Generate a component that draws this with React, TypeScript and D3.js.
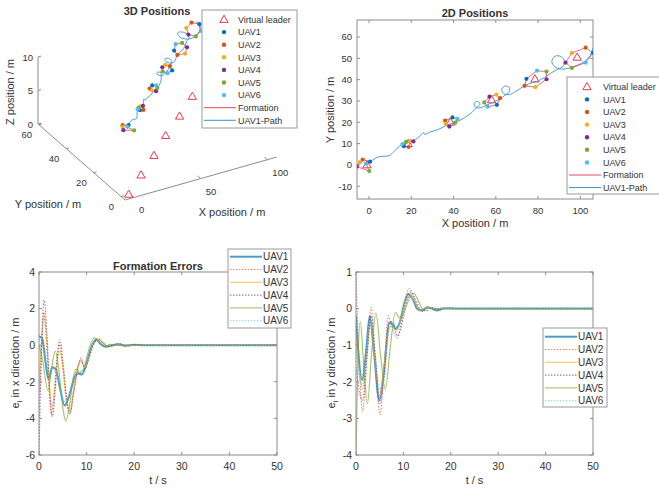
import React, { useRef, useEffect } from "react";
import * as d3 from "d3";

const W = 659;
const H = 488;
const FONT = "'Liberation Sans', Arial, Helvetica, sans-serif";
const TXT = "#333";
const AX = "#8c8c8c";

const uavNames = ["UAV1", "UAV2", "UAV3", "UAV4", "UAV5", "UAV6"];
const uavColors = ["#0072BD", "#D95319", "#EDB120", "#7E2F8E", "#77AC30", "#4DBEEE"];
const uavDash = [null, "1.4,1.6", null, "1.4,1.6", null, "1.4,1.6"];
const uavWidth = [2, 1.1, 1.1, 1.1, 1.1, 1.1];
const leaderColor = "#ee3a4a";
const formationColor = "#e8455a";
const pathColor = "#3b90d3";

// virtual leader positions at the six snapshots (x, y)
const leaderPos = [[-1, 0], [18.5, 10], [38.5, 20], [58, 30.5], [78.5, 40.3], [98.5, 50.5]];
const leaderZ = 0;
const uavZ = 10;

// UAV1..UAV6 positions at each snapshot (x, y)
const snap1 = [[0.5, 1.5], [-3, 2.5], [-4.3, 1.3], [-5.8, -0.8], [0.1, -2.9], [-1.4, 0.6]];
const snap2 = [[16.5, 8.8], [18.7, 8.4], [19.5, 11.2], [21, 11], [17.5, 10.8], [15.8, 9.8]];
const snap3 = [[39.5, 22.3], [36, 20.8], [36.3, 19.3], [38, 18], [40.8, 19.8], [41.8, 21.6]];
const snap4 = [[60.5, 28.2], [62, 31.3], [60.3, 33], [57, 32], [54.5, 29.3], [56.2, 27.3]];
const snap5 = [[74.5, 40.4], [73.6, 37.1], [78.7, 36.5], [84, 40.2], [84, 43.8], [79.5, 44.2]];
const snap6 = [[106, 52.6], [102.5, 55], [96, 52.5], [93, 48], [96, 45.5], [102.5, 48]];
const snapshots = [snap1, snap2, snap3, snap4, snap5, snap6];

// UAV1 trajectory (x, y)
const uav1Path = [
  [0, 1], [2.5, 2.8], [5, 3.9], [7.5, 4.1], [9.5, 4.3], [12, 6.5], [14.5, 8.8], [17.5, 10.2],
  [20.5, 11], [23.5, 13], [25.8, 15.2], [26.3, 14.3], [29, 15.5], [32.5, 16.5], [36.5, 18.5],
  [41.5, 20.3], [45, 22], [48.5, 24.5], [50.5, 26.5], [52.5, 28.5], [51.5, 29.8], [49.8, 29],
  [50.2, 27.2], [52.5, 26.8], [55.5, 28], [59, 29.5], [62, 31], [64, 32.5], [66.2, 34],
  [66.5, 36.2], [64.5, 37], [62.8, 35.5], [63.8, 33.4], [66.5, 33], [69.5, 34.5], [72.5, 36.5],
  [75.5, 38], [79.5, 39.2], [83, 41], [86, 43], [88.5, 44.5], [91.5, 46], [92.5, 48.5],
  [91, 50.8], [88, 51], [86.5, 48.5], [88, 46], [91, 45], [95, 45.5], [99, 47], [102, 48.5],
  [104.5, 51], [106, 55],
];

// formation errors in x direction (t, e)
const errX1 = [[0, 0.5], [0.7, 0.35], [1.3, -0.8], [2.0, -1.85], [2.8, -1.2], [3.5, -1.3], [4.3, -2.2], [5.4, -3.3], [6.3, -2.8], [7.5, -1.75], [8.2, -1.55], [9, -1.6], [10, -1.0], [10.8, -0.25], [12, 0.3], [13, 0.05], [14, -0.08], [15.5, 0.0], [16.5, 0.05], [18, -0.03], [20, 0.02], [22, 0], [50, 0]];
const errX2 = [[0, -3.9], [0.5, -0.5], [1.0, 1.8], [1.5, 0.5], [2.0, -2], [2.6, -3.8], [3.2, -2.5], [3.8, -0.7], [4.3, 0.05], [4.9, -1], [5.7, -3], [6.5, -3.7], [7.2, -2.7], [8.2, -1.2], [8.9, -0.8], [9.5, -1.1], [10.2, -0.9], [11.2, -0.1], [12.5, 0.35], [13.5, 0.15], [14.5, -0.1], [16, 0.02], [17, 0.08], [18.5, -0.05], [20, 0.02], [22, 0], [50, 0]];
const errX3 = [[0, -2.5], [0.5, 0.2], [1.1, 1.6], [1.6, 0.3], [2.2, -2.2], [2.8, -3.4], [3.4, -2.2], [3.9, -0.8], [4.4, -0.3], [5, -1.2], [5.8, -3], [6.5, -3.6], [7.2, -2.5], [8.2, -1.1], [8.8, -0.9], [9.6, -1.2], [10.4, -0.7], [11.5, 0.1], [12.6, 0.3], [13.8, 0.05], [15, -0.08], [16.5, 0.03], [18, 0], [50, 0]];
const errX4 = [[0, -6], [0.4, -1.5], [1.1, 2.45], [1.7, 0.5], [2.2, -2.3], [2.8, -3.9], [3.4, -2.5], [3.9, -0.5], [4.4, 0.3], [5, -0.8], [5.8, -2.8], [6.5, -3.75], [7.3, -2.6], [8.2, -1.2], [8.8, -0.7], [9.6, -1.3], [10.4, -0.8], [11.4, 0], [12.3, 0.35], [13.3, 0.15], [14.3, -0.08], [15.8, 0.03], [17, 0.07], [18.5, -0.04], [20, 0.02], [22, 0], [50, 0]];
const errX5 = [[0, 0], [0.8, -0.9], [1.9, -2.5], [2.7, -1.2], [3.4, -0.3], [4.1, -1.2], [5, -3.4], [5.6, -4.15], [6.3, -3.5], [7.2, -1.8], [7.8, -1.3], [8.6, -1.5], [9.5, -1.2], [10.5, -0.2], [11.6, 0.4], [12.6, 0.2], [13.6, -0.1], [15, 0.05], [16.5, -0.02], [18, 0], [50, 0]];
const errX6 = [[0, 0.3], [0.8, 0.1], [1.5, -1], [2.2, -1.75], [2.9, -1.3], [3.6, -1.4], [4.5, -2.6], [5.6, -3.1], [6.4, -2.6], [7.4, -1.6], [8.2, -1.4], [9.2, -1.4], [10.2, -0.9], [11.2, 0], [12.2, 0.25], [13.2, 0.1], [14.5, -0.05], [16, 0.03], [18, 0], [50, 0]];

// formation errors in y direction (t, e)
const errY1 = [[0, -0.2], [0.5, -1.2], [1.3, -1.95], [2.1, -1.2], [2.9, -0.2], [3.8, -1.2], [4.9, -2.5], [5.8, -1.8], [7.1, -0.38], [7.8, -0.45], [8.4, -0.55], [9.3, -0.35], [10.1, 0.1], [11, 0.4], [12, 0.25], [13, -0.02], [14, -0.05], [15, 0.04], [16, 0.0], [17, -0.05], [18.5, 0], [20, 0.01], [22, 0], [50, 0]];
const errY2 = [[0, 1], [0.5, -0.9], [1.4, -2.8], [2.3, -1.4], [3.2, 0.03], [4.1, -1.6], [5.1, -2.9], [5.9, -1.7], [6.8, -0.2], [7.6, -0.5], [8.6, -0.8], [9.6, -0.4], [10.4, 0.2], [11.2, 0.55], [12.2, 0.3], [13.2, 0], [14.2, -0.08], [15.2, 0.03], [16.5, -0.03], [18, 0.02], [20, 0], [50, 0]];
const errY3 = [[0, -0.9], [0.6, -1.6], [1.4, -2.2], [2.3, -1.2], [3.1, -0.3], [4, -1.4], [5, -2.4], [5.9, -1.6], [6.9, -0.5], [7.7, -0.5], [8.6, -0.6], [9.6, -0.2], [10.6, 0.25], [11.5, 0.35], [12.5, 0.15], [13.5, -0.05], [15, 0.02], [17, 0], [50, 0]];
const errY4 = [[0, -1.6], [0.6, -2.2], [1.4, -2.5], [2.3, -1.3], [3.2, -0.2], [4.1, -1.3], [5, -2.6], [5.9, -1.9], [6.9, -0.4], [7.7, -0.35], [8.7, -0.75], [9.7, -0.4], [10.6, 0.15], [11.6, 0.45], [12.6, 0.25], [13.6, -0.02], [14.8, -0.05], [16, 0.03], [17.5, -0.02], [19, 0.01], [21, 0], [50, 0]];
const errY5 = [[0, -4], [0.4, -1.5], [0.9, -0.35], [1.6, -1.5], [2.4, -2.6], [3.3, -1.2], [4.2, -0.12], [5.2, -1.3], [6.2, -2.2], [7.2, -1.1], [8.3, -0.1], [9.2, -0.25], [10, -0.15], [11, 0.2], [12.2, 0.42], [13.2, 0.2], [14.2, -0.03], [15.5, 0.02], [17, 0], [50, 0]];
const errY6 = [[0, -1.1], [0.6, -1.8], [1.3, -2.1], [2.1, -1.3], [2.9, -0.4], [3.9, -1.1], [5, -2.2], [6, -1.9], [6.9, -0.6], [7.8, -0.4], [8.7, -0.5], [9.7, -0.25], [10.7, 0.2], [11.6, 0.35], [12.6, 0.15], [13.6, -0.03], [15, 0.02], [17, 0], [50, 0]];

const errX = [errX1, errX2, errX3, errX4, errX5, errX6];
const errY = [errY1, errY2, errY3, errY4, errY5, errY6];

const ticks3X = [0, 50, 100];
const ticks3Y = [0, 20, 40, 60];
const ticks3Z = [0, 5, 10];
const ticks2X = [0, 20, 40, 60, 80, 100];
const ticks2Y = [-10, 0, 10, 20, 30, 40, 50, 60];
const ticksT = [0, 10, 20, 30, 40, 50];
const ticksEx = [-6, -4, -2, 0, 2, 4];
const ticksEy = [-4, -3, -2, -1, 0, 1];

function addText(g, x, y, str, size, anchor = "middle", weight = "normal") {
  return g.append("text").attr("x", x).attr("y", y).attr("text-anchor", anchor)
    .attr("font-family", FONT).attr("font-size", size).attr("font-weight", weight)
    .attr("fill", TXT).text(str);
}

// boxed axes with inward ticks on all four sides
function boxAxes(g, xs, ys, xt, yt, fs, xlabY, ylabEnd) {
  const [x0, x1] = xs.range();
  const [y0, y1] = ys.range();
  const tl = 3;
  g.append("rect").attr("x", x0).attr("y", y1).attr("width", x1 - x0).attr("height", y0 - y1)
    .attr("fill", "none").attr("stroke", AX).attr("stroke-width", 1);
  xt.forEach((t) => {
    const x = xs(t);
    g.append("line").attr("x1", x).attr("x2", x).attr("y1", y0).attr("y2", y0 - tl).attr("stroke", AX);
    g.append("line").attr("x1", x).attr("x2", x).attr("y1", y1).attr("y2", y1 + tl).attr("stroke", AX);
    addText(g, x, xlabY, String(t), fs);
  });
  yt.forEach((t) => {
    const y = ys(t);
    g.append("line").attr("x1", x0).attr("x2", x0 + tl).attr("y1", y).attr("y2", y).attr("stroke", AX);
    g.append("line").attr("x1", x1).attr("x2", x1 - tl).attr("y1", y).attr("y2", y).attr("stroke", AX);
    addText(g, ylabEnd, y + fs * 0.36, String(t), fs, "end");
  });
}

function legend(g, box, rows, fs, mx, tx, lx1, lx2) {
  g.append("rect").attr("x", box[0]).attr("y", box[1]).attr("width", box[2]).attr("height", box[3])
    .attr("fill", "#fff").attr("stroke", "#999").attr("stroke-width", 1);
  rows.forEach((r) => {
    if (r.kind === "tri") {
      g.append("path").attr("d", d3.symbol(d3.symbolTriangle, 30)())
        .attr("transform", `translate(${mx},${r.y + 0.5})`)
        .attr("fill", "none").attr("stroke", leaderColor).attr("stroke-width", 1);
    } else if (r.kind === "dot") {
      g.append("circle").attr("cx", mx).attr("cy", r.y).attr("r", 2.2).attr("fill", r.color);
    } else {
      g.append("line").attr("x1", lx1).attr("x2", lx2).attr("y1", r.y).attr("y2", r.y)
        .attr("stroke", r.color).attr("stroke-width", r.width || 1)
        .attr("stroke-dasharray", r.dash).attr("opacity", r.opacity || 1);
    }
    addText(g, tx, r.y + fs * 0.36, r.label, fs, "start");
  });
}

function positionRows(y0, step) {
  const rows = [{ kind: "tri", label: "Virtual leader", y: y0 }];
  uavNames.forEach((n, i) => rows.push({ kind: "dot", label: n, color: uavColors[i], y: y0 + step * (i + 1) }));
  rows.push({ kind: "line", label: "Formation", color: formationColor, y: y0 + step * 7 });
  rows.push({ kind: "line", label: "UAV1-Path", color: pathColor, y: y0 + step * 8 });
  return rows;
}

function draw3D(svg) {
  const g = svg.append("g");
  const xLim = [-6.7, 107];
  const yLim = [-2.9, 60.7];
  const zLim = [0, 10];
  const ox = 130;
  const oy = 194;
  const xh = d3.scaleLinear().domain([0, 100]).range([0, 133.4]);
  const xv = d3.scaleLinear().domain([0, 100]).range([0, -37.75]);
  const yh = d3.scaleLinear().domain([0, 50]).range([0, -68.4]);
  const yv = d3.scaleLinear().domain([0, 50]).range([0, -59.75]);
  const zv = d3.scaleLinear().domain([0, 10]).range([0, -67]);
  const P = (x, y, z) => [ox + xh(x) + yh(y), oy + xv(x) + yv(y) + zv(z)];

  const seg = (a, b) => g.append("line").attr("x1", a[0]).attr("y1", a[1]).attr("x2", b[0]).attr("y2", b[1])
    .attr("stroke", AX).attr("stroke-width", 1);
  seg(P(xLim[0], yLim[0], 0), P(xLim[1], yLim[0], 0));
  seg(P(xLim[0], yLim[0], 0), P(xLim[0], yLim[1], 0));
  seg(P(xLim[0], yLim[1], zLim[0]), P(xLim[0], yLim[1], zLim[1]));

  ticks3X.forEach((t) => {
    const a = P(t, yLim[0], 0);
    seg(a, P(t, yLim[0] + 2.2, 0));
    addText(g, a[0] + 5, a[1] + 16, String(t), 9.5, "start");
  });
  ticks3Y.forEach((t) => {
    const a = P(xLim[0], t, 0);
    seg(a, P(xLim[0] + 2.2, t, 0));
    addText(g, a[0] - 7, a[1] + 13, String(t), 9.5, "end");
  });
  ticks3Z.forEach((t) => {
    const a = P(xLim[0], yLim[1], t);
    seg(a, P(xLim[0] + 2.2, yLim[1], t));
    addText(g, a[0] - 5, a[1] + 4, String(t), 9.5, "end");
  });

  addText(g, 232, 216, "X position / m", 11);
  addText(g, 48, 208, "Y position / m", 11);
  addText(g, 0, 0, "Z position / m", 11).attr("transform", "translate(14,92) rotate(-90)");
  addText(g, 157, 15, "3D Positions", 11, "middle", "bold");

  // virtual leader
  leaderPos.forEach((p) => {
    const s = P(p[0], p[1], leaderZ);
    g.append("path").attr("d", d3.symbol(d3.symbolTriangle, 30)())
      .attr("transform", `translate(${s[0]},${s[1] + 0.5})`)
      .attr("fill", "none").attr("stroke", leaderColor).attr("stroke-width", 1);
  });

  // UAV1 path
  const line3 = d3.line().curve(d3.curveCatmullRom.alpha(0.5));
  g.append("path").attr("d", line3(uav1Path.map((p) => P(p[0], p[1], uavZ))))
    .attr("fill", "none").attr("stroke", pathColor).attr("stroke-width", 0.9);

  snapshots.forEach((snap) => {
    const pts = snap.map((p) => P(p[0], p[1], uavZ));
    g.append("path").attr("d", d3.line()(pts) + "Z").attr("fill", "none")
      .attr("stroke", formationColor).attr("stroke-width", 0.8);
    pts.forEach((s, i) => {
      g.append("circle").attr("cx", s[0]).attr("cy", s[1]).attr("r", 2.1).attr("fill", uavColors[i]);
    });
  });

  legend(g, [202, 10, 95, 118], positionRows(19.5, 12.6), 9, 224, 238, 204, 236);
}

function draw2D(svg) {
  const g = svg.append("g");
  const xs = d3.scaleLinear().domain([-5.7, 106]).range([357, 593]);
  const ys = d3.scaleLinear().domain([-16, 68]).range([199, 20]);

  svg.append("defs").append("clipPath").attr("id", "clip2d").append("rect")
    .attr("x", 357).attr("y", 20).attr("width", 236).attr("height", 179);

  boxAxes(g, xs, ys, ticks2X, ticks2Y, 9.5, 214, 352);
  addText(g, 475, 17, "2D Positions", 11, "middle", "bold");
  addText(g, 475, 227, "X position / m", 11);
  addText(g, 0, 0, "Y position / m", 11).attr("transform", "translate(334,110) rotate(-90)");

  const pg = g.append("g").attr("clip-path", "url(#clip2d)");
  leaderPos.forEach((p) => {
    pg.append("path").attr("d", d3.symbol(d3.symbolTriangle, 30)())
      .attr("transform", `translate(${xs(p[0])},${ys(p[1]) + 0.5})`)
      .attr("fill", "none").attr("stroke", leaderColor).attr("stroke-width", 1);
  });
  const line2 = d3.line().x((d) => xs(d[0])).y((d) => ys(d[1])).curve(d3.curveCatmullRom.alpha(0.5));
  pg.append("path").attr("d", line2(uav1Path)).attr("fill", "none")
    .attr("stroke", pathColor).attr("stroke-width", 0.9);
  const lineF = d3.line().x((d) => xs(d[0])).y((d) => ys(d[1]));
  snapshots.forEach((snap) => {
    pg.append("path").attr("d", lineF(snap) + "Z").attr("fill", "none")
      .attr("stroke", formationColor).attr("stroke-width", 0.8);
    snap.forEach((p, i) => {
      pg.append("circle").attr("cx", xs(p[0])).attr("cy", ys(p[1])).attr("r", 2.1).attr("fill", uavColors[i]);
    });
  });

  legend(g, [567, 77, 95, 117], positionRows(86.8, 12.6), 9, 587, 603, 569, 601);
}

function drawErrors(svg, opts) {
  const g = svg.append("g");
  const xs = d3.scaleLinear().domain([0, 50]).range(opts.xr);
  const ys = d3.scaleLinear().domain(opts.yd).range([455, 272]);
  const id = opts.id;
  svg.append("defs").append("clipPath").attr("id", id).append("rect")
    .attr("x", opts.xr[0]).attr("y", 272).attr("width", opts.xr[1] - opts.xr[0]).attr("height", 183);

  const pg = g.append("g").attr("clip-path", `url(#${id})`);
  const ln = d3.line().x((d) => xs(d[0])).y((d) => ys(d[1])).curve(d3.curveMonotoneX);
  opts.data.forEach((s, i) => {
    pg.append("path").attr("d", ln(s)).attr("fill", "none")
      .attr("stroke", uavColors[i]).attr("stroke-width", uavWidth[i])
      .attr("stroke-dasharray", uavDash[i]).attr("opacity", 0.7);
  });

  boxAxes(g, xs, ys, ticksT, opts.yt, 10.5, 470, opts.xr[0] - 4);
  const cx = (opts.xr[0] + opts.xr[1]) / 2;
  addText(g, cx, 484, "t / s", 11);
  const yl = g.append("text").attr("transform", `translate(${opts.ylx},363) rotate(-90)`)
    .attr("text-anchor", "middle").attr("font-family", FONT).attr("font-size", 11).attr("fill", TXT);
  yl.append("tspan").text("e");
  yl.append("tspan").attr("dy", 3).attr("font-size", 8).text("i");
  yl.append("tspan").attr("dy", -3).text(` in ${opts.dir} direction / m`);
  if (opts.title) addText(g, cx, 270, opts.title, 11, "middle", "bold");

  const rows = uavNames.map((n, i) => ({
    kind: "line", label: n, color: uavColors[i], dash: uavDash[i], width: uavWidth[i],
    opacity: 0.7, y: opts.ly + i * 12.8,
  }));
  legend(g, opts.lbox, rows, 10, 0, opts.lbox[0] + 35, opts.lbox[0] + 2, opts.lbox[0] + 34);
}

function App() {
  const svgRef = useRef(null);

  useEffect(() => {
    const svg = d3.select(svgRef.current);
    svg.selectAll("*").remove();
    draw3D(svg);
    draw2D(svg);
    drawErrors(svg, {
      id: "clipEx", xr: [39, 277], yd: [-6, 4], yt: ticksEx, data: errX, dir: "x",
      ylx: 19, title: "Formation Errors", lbox: [228, 249, 63, 79], ly: 256.7,
    });
    drawErrors(svg, {
      id: "clipEy", xr: [356, 593], yd: [-4, 1], yt: ticksEy, data: errY, dir: "y",
      ylx: 335, title: null, lbox: [543, 328, 64, 79], ly: 336.7,
    });
  }, []);

  return (
    <svg ref={svgRef} width={W} height={H}
      style={{ position: "absolute", left: 0, top: 0, background: "#fff" }} />
  );
}

export default App;
